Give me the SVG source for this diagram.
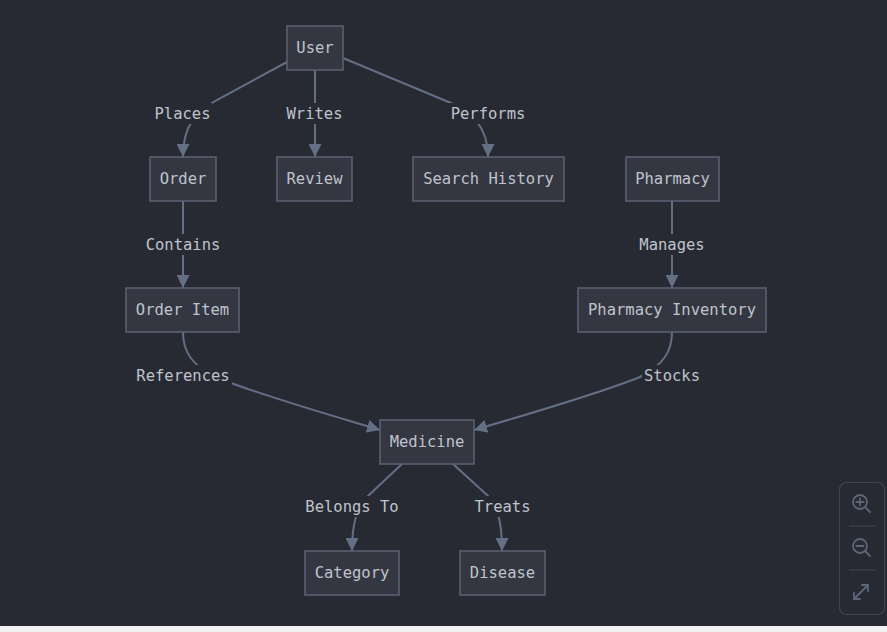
<svg xmlns="http://www.w3.org/2000/svg" width="887" height="632" viewBox="0 0 887 632">
<defs>
<style>
.node rect{fill:#343741;stroke:#5c6374;stroke-width:1.5}
.node text,.lbl text{font-family:"DejaVu Sans Mono","Liberation Mono",monospace;font-size:15.5px;fill:#bfc3cc;text-anchor:middle;dominant-baseline:central}
.edge{fill:none;stroke:#646e85;stroke-width:2}
.lbl rect{fill:#272a33}
.ctl{fill:none;stroke:#5d6578;stroke-width:1.8;stroke-linecap:round}
</style>
<marker id="arr" viewBox="0 0 10 10" refX="10" refY="5" markerWidth="13" markerHeight="13" markerUnits="userSpaceOnUse" orient="auto">
<path d="M0,0 L10,5 L0,10 z" fill="#646e85"/>
</marker>
</defs>
<rect x="0" y="0" width="887" height="632" fill="#f2f2f2"/>
<rect x="0" y="0" width="887" height="626" fill="#272a33"/>
<g id="connectors">
<path class="edge" marker-end="url(#arr)" d="M287,62 L215,101 C196,112 183,125 183,157"/>
<path class="edge" marker-end="url(#arr)" d="M315,70 L315,157"/>
<path class="edge" marker-end="url(#arr)" d="M343,58 L451,103 C470,112 488,125 488,157"/>
<path class="edge" marker-end="url(#arr)" d="M183,201 L183,288"/>
<path class="edge" marker-end="url(#arr)" d="M672,201 L672,288"/>
<path class="edge" marker-end="url(#arr)" d="M183,332 C183,352 192,365 215,377 C260,395 330,415 380,430"/>
<path class="edge" marker-end="url(#arr)" d="M672,332 C672,352 663,365 640,377 C595,395 525,415 474,430"/>
<path class="edge" marker-end="url(#arr)" d="M402,464 L369,495 C358,506 352,520 352,551"/>
<path class="edge" marker-end="url(#arr)" d="M453,464 L487,495 C497,505 502,520 502,551"/>
</g>
<g id="labels">
<g class="lbl"><rect x="153" y="103" width="59" height="21"/><text x="182.5" y="113.5">Places</text></g>
<g class="lbl"><rect x="285" y="103" width="59" height="21"/><text x="314.5" y="113.5">Writes</text></g>
<g class="lbl"><rect x="449" y="103" width="78" height="21"/><text x="488" y="113.5">Performs</text></g>
<g class="lbl"><rect x="144" y="234" width="78" height="21"/><text x="183" y="244.5">Contains</text></g>
<g class="lbl"><rect x="637" y="234" width="70" height="21"/><text x="672" y="244.5">Manages</text></g>
<g class="lbl"><rect x="134" y="365" width="98" height="21"/><text x="183" y="375.5">References</text></g>
<g class="lbl"><rect x="642" y="365" width="60" height="21"/><text x="672" y="375.5">Stocks</text></g>
<g class="lbl"><rect x="303" y="496" width="98" height="21"/><text x="352" y="506.5">Belongs To</text></g>
<g class="lbl"><rect x="472" y="496" width="61" height="21"/><text x="502.5" y="506.5">Treats</text></g>
</g>
<g id="node-user" class="node"><rect x="287" y="26" width="56" height="44"/><text x="315" y="48">User</text></g>
<g id="node-order" class="node"><rect x="150" y="157" width="66" height="44"/><text x="183" y="179">Order</text></g>
<g id="node-review" class="node"><rect x="277" y="157" width="75" height="44"/><text x="314.5" y="179">Review</text></g>
<g id="node-search" class="node"><rect x="413" y="157" width="151" height="44"/><text x="488.5" y="179">Search History</text></g>
<g id="node-pharmacy" class="node"><rect x="626" y="157" width="93" height="44"/><text x="672.5" y="179">Pharmacy</text></g>
<g id="node-orderitem" class="node"><rect x="126" y="288" width="113" height="44"/><text x="182.5" y="310">Order Item</text></g>
<g id="node-inventory" class="node"><rect x="578" y="288" width="188" height="44"/><text x="672" y="310">Pharmacy Inventory</text></g>
<g id="node-medicine" class="node"><rect x="380" y="420" width="94" height="44"/><text x="427" y="442">Medicine</text></g>
<g id="node-category" class="node"><rect x="305" y="551" width="94" height="44"/><text x="352" y="573">Category</text></g>
<g id="node-disease" class="node"><rect x="460" y="551" width="85" height="44"/><text x="502.5" y="573">Disease</text></g>
<g id="zoom-controls">
<rect x="839.5" y="482.5" width="45" height="132" rx="7" fill="#272a33" stroke="#3f4452" stroke-width="1.2"/>
<line x1="849" y1="526" x2="876" y2="526" stroke="#3f4452" stroke-width="1"/>
<line x1="849" y1="570" x2="876" y2="570" stroke="#3f4452" stroke-width="1"/>
<circle class="ctl" cx="860" cy="502" r="7"/>
<path class="ctl" d="M865,507 L870,512 M856.5,502 L863.5,502 M860,498.5 L860,505.5"/>
<circle class="ctl" cx="860" cy="546" r="7"/>
<path class="ctl" d="M865,551 L870,556 M856.5,546 L863.5,546"/>
<path class="ctl" d="M854,599 L868,585 M862,585 L868,585 L868,591 M854,593 L854,599 L860,599"/>
</g>
</svg>
